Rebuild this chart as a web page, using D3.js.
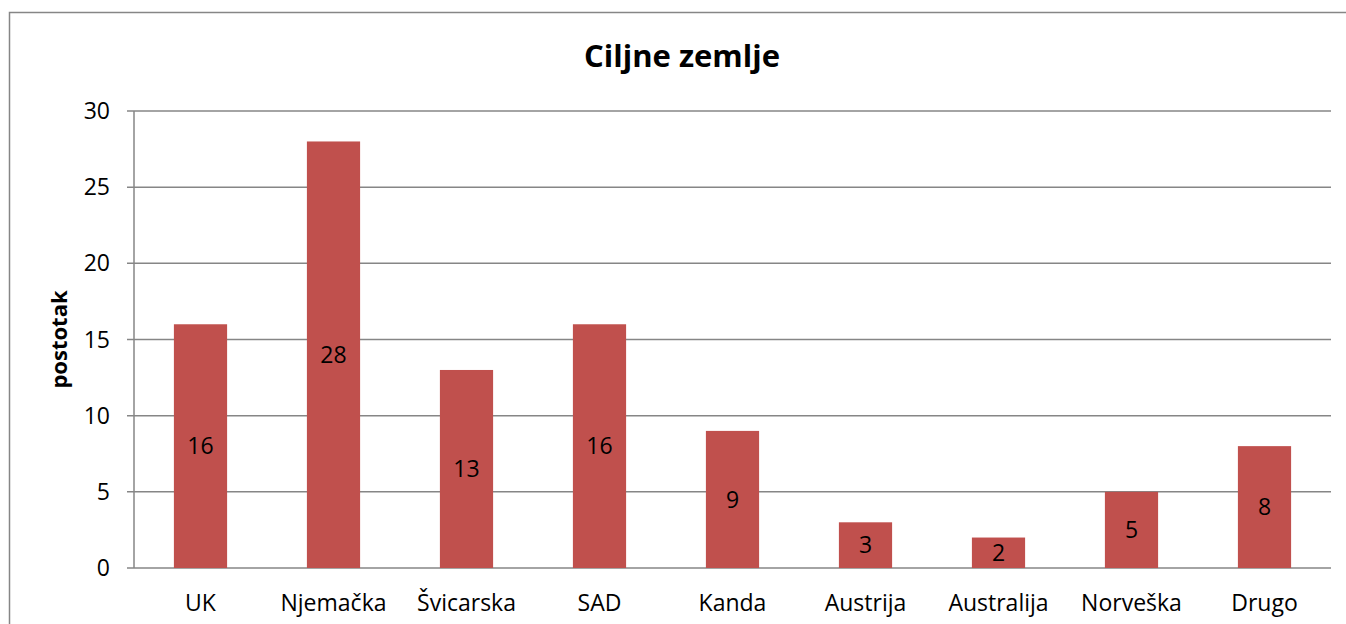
<!DOCTYPE html>
<html>
<head>
<meta charset="utf-8">
<script src="https://cdn.jsdelivr.net/npm/d3@7"></script>
<style>
  body { margin: 0; background: #fff; }
  text { font-family: "Open Sans", Lato, sans-serif; fill: #000; }
</style>
</head>
<body>
<div id="viz"></div>
<script>
// chart data
var countries = ['UK', 'Njemačka', 'Švicarska', 'SAD', 'Kanda', 'Austrija', 'Australija', 'Norveška', 'Drugo'];
var percents = [16, 28, 13, 16, 9, 3, 2, 5, 8];
var yTicks = [0, 5, 10, 15, 20, 25, 30];

var svg = d3.select('#viz').append('svg')
	.attr('width', 1346)
	.attr('height', 624);

// outer chart border (runs off the right and bottom edge)
svg.append('rect')
	.attr('x', 9.5).attr('y', 12.5)
	.attr('width', 1346).attr('height', 640)
	.attr('fill', 'none')
	.attr('stroke', '#868686')
	.attr('stroke-width', 1.5);

// plot area edges
var plotLeft = 134, plotRight = 1331, plotTop = 111, plotBottom = 568;

var x = d3.scaleBand()
	.domain(countries)
	.range([plotLeft, plotRight])
	.paddingInner(0.6)
	.paddingOuter(0.3);

var y = d3.scaleLinear()
	.domain([0, 30])
	.range([plotBottom, plotTop]);

// gridlines
svg.append('g').selectAll('line')
	.data(yTicks).enter()
	.append('line')
	.attr('x1', plotLeft - 7).attr('x2', plotRight)
	.attr('y1', function(d) { return y(d); })
	.attr('y2', function(d) { return y(d); })
	.attr('stroke', '#868686')
	.attr('stroke-width', 1.5);

// y axis line
svg.append('line')
	.attr('x1', plotLeft).attr('x2', plotLeft)
	.attr('y1', plotTop).attr('y2', plotBottom)
	.attr('stroke', '#868686')
	.attr('stroke-width', 1.5);

// y tick labels
svg.append('g').selectAll('text')
	.data(yTicks).enter()
	.append('text')
	.attr('x', plotLeft - 24)
	.attr('y', function(d) { return y(d); })
	.attr('dy', '0.35em')
	.attr('text-anchor', 'end')
	.style('font-size', '23px')
	.text(function(d) { return d; });

// bars
svg.append('g').selectAll('rect')
	.data(percents).enter()
	.append('rect')
	.attr('x', function(d, i) { return x(countries[i]); })
	.attr('width', x.bandwidth())
	.attr('y', function(d) { return y(d); })
	.attr('height', function(d) { return y(0) - y(d); })
	.attr('fill', '#C0504D');

// value labels in the middle of the bars
svg.append('g').selectAll('text')
	.data(percents).enter()
	.append('text')
	.attr('x', function(d, i) { return x(countries[i]) + x.bandwidth() / 2; })
	.attr('y', function(d) { return (y(d) + y(0)) / 2; })
	.attr('dy', '0.35em')
	.attr('text-anchor', 'middle')
	.style('font-size', '23px')
	.text(function(d) { return d; });

// category labels
svg.append('g').selectAll('text')
	.data(countries).enter()
	.append('text')
	.attr('x', function(d) { return x(d) + x.bandwidth() / 2; })
	.attr('y', 603)
	.attr('dy', '0.35em')
	.attr('text-anchor', 'middle')
	.style('font-size', '23px')
	.text(function(d) { return d; });

// title
svg.append('text')
	.attr('x', 682)
	.attr('y', 56)
	.attr('dy', '0.35em')
	.attr('text-anchor', 'middle')
	.style('font-size', '31px')
	.style('font-weight', 'bold')
	.text('Ciljne zemlje');

// y axis title
svg.append('text')
	.attr('transform', 'translate(59,' + ((plotTop + plotBottom) / 2) + ') rotate(-90)')
	.attr('dy', '0.35em')
	.attr('text-anchor', 'middle')
	.style('font-size', '22px')
	.style('font-weight', 'bold')
	.text('postotak');
</script>
</body>
</html>
